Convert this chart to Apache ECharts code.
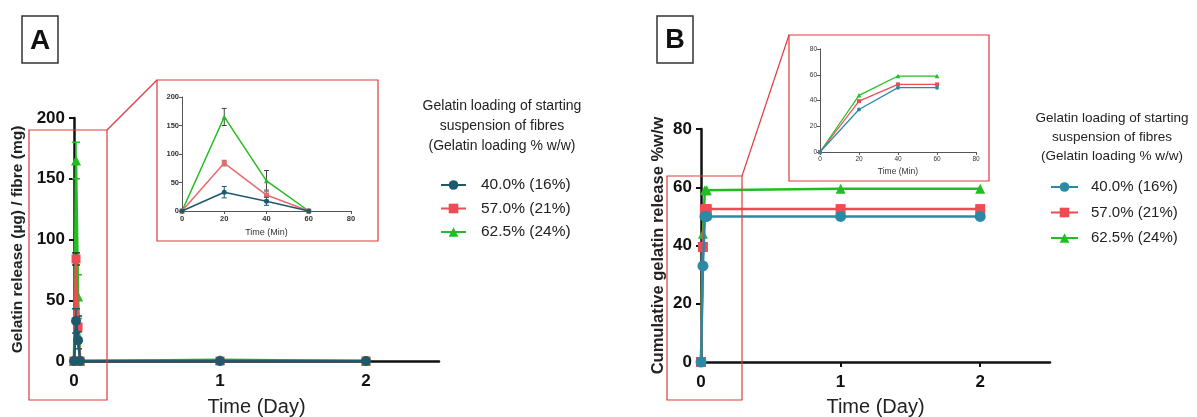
<!DOCTYPE html>
<html>
<head>
<meta charset="utf-8">
<script src="https://cdn.jsdelivr.net/npm/echarts@6/dist/echarts.min.js"></script>
<style>html,body{margin:0;padding:0;background:#fff}#c{width:1197px;height:417px}</style>
</head>
<body>
<div id="c"></div>
<script>
// ---------- data ----------
const timesMin = [0, 20, 40, 60];                       // inset x (min)
const timesDay = [0, 0.0139, 0.0278, 0.0417, 1, 2];     // main x (day)
const seriesNames = ['40.0% (16%)', '57.0% (21%)', '62.5% (24%)'];
const mainXTicks = [0, 1, 2];

// Panel A: gelatin release (µg) / fibre (mg)
const relA40 = [0, 33, 17, 0, 0, 0];
const relA57 = [0, 84, 28, 0, 0, 0];
const relA62 = [0, 165, 53, 0, 1, 0];
const errA40 = [0, 10, 7, 0, 0, 0];
const errA57 = [0, 5, 9, 0, 0, 0];
const errA62 = [0, 15, 18, 0, 0, 0];

// Panel B: cumulative gelatin release % w/w
const cumB40 = [0, 33, 50, 50, 50, 50];
const cumB57 = [0, 39.5, 52.5, 52.5, 52.5, 52.5];
const cumB62 = [0, 44, 59, 59, 59.5, 59.5];

// ---------- style ----------
const FF = 'Liberation Sans, Arial, sans-serif';
const cBlueA = '#1d5a6c', cBlueB = '#2a8aa6', cRed = '#ef4b52', cGreen = '#22bd22';
const boxRed = '#e23a3a';

function zip(xs, ys) { return ys.map((v, i) => [xs[i], v]); }

function lineS(name, gi, data, color, symbol, size, width, z) {
  return {
    type: 'line', name: name, xAxisIndex: gi, yAxisIndex: gi, data: data,
    symbol: symbol, symbolSize: size, showSymbol: true,
    lineStyle: { color: color, width: width }, itemStyle: { color: color },
    emphasis: { disabled: true }, animation: false, z: z
  };
}
function errS(gi, times, vals, errs, color, capHalf, lw, z) {
  const data = vals.map((v, i) => [times[i], v - errs[i], v + errs[i]]).filter(d => d[2] > d[1]);
  return {
    type: 'custom', coordinateSystem: 'cartesian2d', xAxisIndex: gi, yAxisIndex: gi,
    data: data, animation: false, z: z, clip: false, silent: true,
    encode: { x: 0, y: [1, 2] },
    renderItem: function (params, api) {
      const lo = api.coord([api.value(0), api.value(1)]);
      const hi = api.coord([api.value(0), api.value(2)]);
      const st = { stroke: color, lineWidth: lw };
      return { type: 'group', children: [
        { type: 'line', shape: { x1: lo[0], y1: lo[1], x2: hi[0], y2: hi[1] }, style: st },
        { type: 'line', shape: { x1: hi[0] - capHalf, y1: hi[1], x2: hi[0] + capHalf, y2: hi[1] }, style: st },
        { type: 'line', shape: { x1: lo[0] - capHalf, y1: lo[1], x2: lo[0] + capHalf, y2: lo[1] }, style: st }
      ]};
    }
  };
}

function mainX(gi, gap) {
  return {
    type: 'value', gridIndex: gi, min: 0, max: 2.5, interval: 1,
    name: 'Time (Day)', nameLocation: 'middle', nameGap: gap,
    nameTextStyle: { fontFamily: FF, fontSize: 20, color: '#222' },
    axisLine: { onZero: false, lineStyle: { color: '#111', width: 2.5 } },
    axisTick: { show: true, length: 5, lineStyle: { color: '#111', width: 2 }, customValues: mainXTicks },
    axisLabel: { fontFamily: FF, fontSize: 17, fontWeight: 'bold', color: '#111', margin: 12, customValues: mainXTicks },
    splitLine: { show: false }
  };
}
function mainY(gi, max, interval, name, gap, fs) {
  return {
    type: 'value', gridIndex: gi, min: 0, max: max, interval: interval,
    name: name, nameLocation: 'middle', nameGap: gap,
    nameTextStyle: { fontFamily: FF, fontSize: fs, fontWeight: 'bold', color: '#222' },
    axisLine: { show: true, onZero: false, lineStyle: { color: '#111', width: 2.5 } },
    axisTick: { show: true, length: 5, lineStyle: { color: '#111', width: 2 } },
    axisLabel: { fontFamily: FF, fontSize: 17, fontWeight: 'bold', color: '#111', margin: 9 },
    splitLine: { show: false }
  };
}
function insetX(gi, gap, fs, nfs, bold) {
  return {
    type: 'value', gridIndex: gi, min: 0, max: 80, interval: 20,
    name: 'Time (Min)', nameLocation: 'middle', nameGap: gap,
    nameTextStyle: { fontFamily: FF, fontSize: nfs, color: '#333' },
    axisLine: { onZero: false, lineStyle: { color: '#555', width: 1 } },
    axisTick: { show: true, length: 3, lineStyle: { color: '#555', width: 1 } },
    axisLabel: { fontFamily: FF, fontSize: fs, fontWeight: bold ? 'bold' : 'normal', color: '#333', margin: 4 },
    splitLine: { show: false }
  };
}
function insetY(gi, max, interval, fs, bold) {
  return {
    type: 'value', gridIndex: gi, min: 0, max: max, interval: interval,
    axisLine: { show: true, onZero: false, lineStyle: { color: '#555', width: 1 } },
    axisTick: { show: true, length: 3, lineStyle: { color: '#555', width: 1 } },
    axisLabel: { fontFamily: FF, fontSize: fs, fontWeight: bold ? 'bold' : 'normal', color: '#333', margin: 3 },
    splitLine: { show: false }
  };
}

const bNames = seriesNames.map(n => 'B:' + n);

const option = {
  backgroundColor: '#fff',
  animation: false,
  grid: [
    { left: 74, top: 118, width: 365, height: 243, outerBoundsMode: 'none', containLabel: false },
    { left: 182, top: 97, width: 169, height: 114, outerBoundsMode: 'none', containLabel: false },
    { left: 701, top: 129, width: 349, height: 233, outerBoundsMode: 'none', containLabel: false },
    { left: 820, top: 49, width: 156, height: 103, outerBoundsMode: 'none', containLabel: false }
  ],
  xAxis: [ mainX(0, 36), insetX(1, 17, 7.5, 9, true), mainX(2, 35), insetX(3, 15, 6.5, 8.5, false) ],
  yAxis: [
    mainY(0, 200, 50, 'Gelatin release (µg) / fibre (mg)', 48, 15.5),
    insetY(1, 200, 50, 7.5, true),
    mainY(2, 80, 20, 'Cumulative gelatin release %w/w', 34, 16.5),
    insetY(3, 80, 20, 6.5, false)
  ],
  legend: [
    {
      orient: 'vertical', left: 435, top: 171, itemWidth: 25, itemHeight: 12, itemGap: 5.5,
      data: seriesNames, selectedMode: false,
      textStyle: { fontFamily: FF, fontSize: 15.5, color: '#222', lineHeight: 18, padding: [0, 0, 0, 10] }
    },
    {
      orient: 'vertical', left: 1045, top: 173, itemWidth: 27, itemHeight: 12, itemGap: 7.5,
      data: bNames, selectedMode: false,
      formatter: n => n.replace('B:', ''),
      textStyle: { fontFamily: FF, fontSize: 15, color: '#222', lineHeight: 18, padding: [0, 0, 0, 8] }
    }
  ],
  graphic: [
    { type: 'rect', shape: { x: 22, y: 16, width: 36, height: 47 }, style: { fill: 'none', stroke: '#333', lineWidth: 1.5 } },
    { type: 'text', style: { text: 'A', x: 40, y: 41, textAlign: 'center', textVerticalAlign: 'middle', font: 'bold 28px ' + FF, fill: '#111' } },
    { type: 'rect', shape: { x: 657, y: 16, width: 36, height: 47 }, style: { fill: 'none', stroke: '#333', lineWidth: 1.5 } },
    { type: 'text', style: { text: 'B', x: 675, y: 41, textAlign: 'center', textVerticalAlign: 'middle', font: 'bold 27px ' + FF, fill: '#111' } },
    // zoom boxes
    { type: 'rect', z: 100, shape: { x: 29, y: 130, width: 78, height: 270 }, style: { fill: 'none', stroke: boxRed, lineWidth: 1.2 } },
    { type: 'rect', z: 100, shape: { x: 157, y: 80, width: 221, height: 161 }, style: { fill: 'none', stroke: boxRed, lineWidth: 1.2 } },
    { type: 'line', z: 100, shape: { x1: 107, y1: 130, x2: 157, y2: 80 }, style: { stroke: boxRed, lineWidth: 1.2 } },
    { type: 'rect', z: 100, shape: { x: 667, y: 176, width: 75, height: 224 }, style: { fill: 'none', stroke: boxRed, lineWidth: 1.2 } },
    { type: 'rect', z: 100, shape: { x: 789, y: 35, width: 200, height: 146 }, style: { fill: 'none', stroke: boxRed, lineWidth: 1.2 } },
    { type: 'line', z: 100, shape: { x1: 742, y1: 176, x2: 789, y2: 35 }, style: { stroke: boxRed, lineWidth: 1.2 } },
    // legend titles
    { type: 'text', style: { text: 'Gelatin loading of starting\nsuspension of fibres\n(Gelatin loading % w/w)', x: 502, y: 96, textAlign: 'center', textVerticalAlign: 'top', font: '14px ' + FF, lineHeight: 20, fill: '#222' } },
    { type: 'text', style: { text: 'Gelatin loading of starting\nsuspension of fibres\n(Gelatin loading % w/w)', x: 1112, y: 108.5, textAlign: 'center', textVerticalAlign: 'top', font: '13.5px ' + FF, lineHeight: 19, fill: '#222' } }
  ],
  series: [
    // Panel A main
    errS(0, timesDay, relA62, errA62, cGreen, 4, 1.5, 3),
    lineS(seriesNames[2], 0, zip(timesDay, relA62), cGreen, 'triangle', 10, 2.5, 4),
    errS(0, timesDay, relA57, errA57, '#333', 4, 1.5, 5),
    lineS(seriesNames[1], 0, zip(timesDay, relA57), cRed, 'rect', 9, 2.5, 6),
    errS(0, timesDay, relA40, errA40, cBlueA, 4, 1.5, 7),
    lineS(seriesNames[0], 0, zip(timesDay, relA40), cBlueA, 'circle', 10, 2.5, 8),
    // Panel A inset
    errS(1, timesMin, relA62.slice(0, 4), errA62.slice(0, 4), '#444', 2.5, 1, 3),
    lineS('iA62', 1, zip(timesMin, relA62.slice(0, 4)), cGreen, 'triangle', 5, 1.5, 4),
    errS(1, timesMin, relA57.slice(0, 4), errA57.slice(0, 4), '#777', 2.5, 1, 5),
    lineS('iA57', 1, zip(timesMin, relA57.slice(0, 4)), '#e86a6e', 'rect', 5, 1.5, 6),
    errS(1, timesMin, relA40.slice(0, 4), errA40.slice(0, 4), cBlueA, 2.5, 1, 7),
    lineS('iA40', 1, zip(timesMin, relA40.slice(0, 4)), cBlueA, 'circle', 5, 1.5, 8),
    // Panel B main
    lineS(bNames[2], 2, zip(timesDay, cumB62), cGreen, 'triangle', 10, 2.5, 4),
    lineS(bNames[1], 2, zip(timesDay, cumB57), cRed, 'rect', 10, 2.5, 6),
    lineS(bNames[0], 2, zip(timesDay, cumB40), cBlueB, 'circle', 11, 2.5, 8),
    // Panel B inset
    lineS('iB62', 3, zip(timesMin, cumB62.slice(0, 4)), cGreen, 'triangle', 4.5, 1.2, 4),
    lineS('iB57', 3, zip(timesMin, cumB57.slice(0, 4)), cRed, 'rect', 4, 1.2, 6),
    lineS('iB40', 3, zip(timesMin, cumB40.slice(0, 4)), cBlueB, 'circle', 4, 1.2, 8)
  ]
};

const chart = echarts.init(document.getElementById('c'), null, { renderer: 'canvas' });
chart.setOption(option);
</script>
</body>
</html>
